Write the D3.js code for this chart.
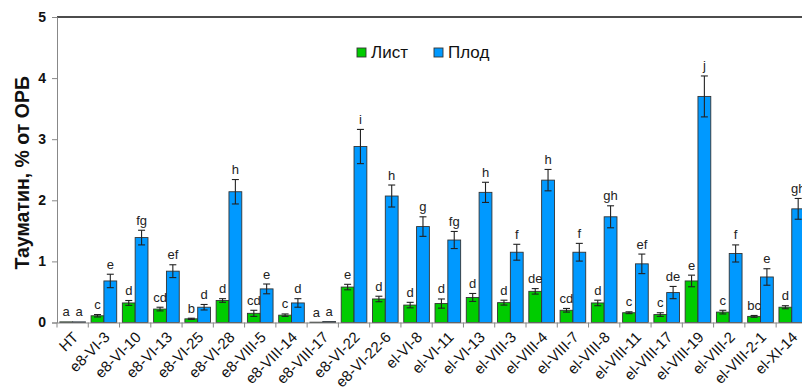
<!DOCTYPE html>
<html>
<head>
<meta charset="utf-8">
<script src="https://cdn.jsdelivr.net/npm/d3@7/dist/d3.min.js"></script>
<style>
  html, body { margin: 0; padding: 0; background: #fff; }
  svg { display: block; overflow: hidden; }
  text { font-family: Arial, "Liberation Sans", sans-serif; }
</style>
</head>
<body>
<svg id="chart" width="802" height="391"></svg>
<script>
// Lines (categories)
const categories = ["НТ","e8-VI-3","e8-VI-10","e8-VI-13","e8-VI-25","e8-VI-28","e8-VIII-5","e8-VIII-14","e8-VIII-17","e8-VI-22","e8-VI-22-6","el-VI-8","el-VI-11","el-VI-13","el-VIII-3","el-VIII-4","el-VIII-7","el-VIII-8","el-VIII-11","el-VIII-17","el-VIII-19","el-VIII-2","el-VIII-2-1","el-XI-14"];

// Thaumatin content, % of total soluble protein
const leafValues  = [0.01,0.11,0.32,0.22,0.06,0.36,0.15,0.12,0.005,0.58,0.385,0.285,0.31,0.41,0.325,0.51,0.20,0.32,0.16,0.13,0.68,0.17,0.10,0.25];
const leafErrors  = [0,0.02,0.04,0.03,0.01,0.03,0.05,0.02,0,0.045,0.045,0.045,0.075,0.065,0.04,0.045,0.03,0.045,0.015,0.03,0.095,0.03,0.015,0.025];
const fruitValues = [0.01,0.68,1.39,0.84,0.25,2.14,0.55,0.32,0.015,2.88,2.07,1.57,1.35,2.13,1.15,2.33,1.15,1.73,0.96,0.49,3.70,1.13,0.745,1.86];
const fruitErrors = [0,0.11,0.12,0.105,0.045,0.2,0.08,0.07,0,0.28,0.18,0.16,0.14,0.165,0.13,0.175,0.145,0.18,0.16,0.1,0.335,0.14,0.135,0.17];

// Significance groups
const leafLetters  = ["a","c","d","cd","b","d","cd","c","a","e","d","d","d","d","d","de","cd","d","c","c","e","c","bc","d"];
const fruitLetters = ["a","e","fg","ef","d","h","e","d","a","i","h","g","fg","h","f","h","f","gh","ef","de","j","f","e","gh"];

const seriesNames = ["Лист","Плод"];
const seriesColors = ["#00cc00","#0099ff"];
const yTicks = [0,1,2,3,4,5];

const svg = d3.select("#chart");
const margin = {left: 57, top: 17, bottom: 68.5};
const plotRight = 807.4;
const H = 391;

const x = d3.scaleBand().domain(categories).range([margin.left, plotRight]).paddingInner(0).paddingOuter(0);
const xSub = d3.scaleBand().domain([0,1]).range([0, x.bandwidth()]).paddingInner(0).paddingOuter(0.22);
const y = d3.scaleLinear().domain([0,5]).range([H - margin.bottom, margin.top]);

const rows = categories.map((c,i) => ({
  cat: c,
  vals: [
    {s:0, v: leafValues[i],  e: leafErrors[i],  t: leafLetters[i]},
    {s:1, v: fruitValues[i], e: fruitErrors[i], t: fruitLetters[i]}
  ]
}));

// top border of the plot area
svg.append("line")
  .attr("x1", margin.left).attr("x2", plotRight)
  .attr("y1", y(5)).attr("y2", y(5))
  .attr("stroke", "#111").attr("stroke-width", 1.3);

// y axis
const yAxis = svg.append("g")
  .attr("transform", `translate(${margin.left},0)`)
  .call(d3.axisLeft(y).tickValues(yTicks).tickFormat(d3.format("d")).tickSizeOuter(0).tickSize(5).tickPadding(6));
yAxis.select(".domain").attr("stroke", "#888");
yAxis.selectAll(".tick line").attr("stroke", "#888");
yAxis.selectAll(".tick text").attr("font-size", 14).attr("font-weight", "bold").attr("fill", "#111")
  .attr("font-family", "Arial, 'Liberation Sans', sans-serif");

// y axis title
svg.append("text")
  .attr("transform", `translate(29,${(y(0)+y(5))/2 + 3}) rotate(-90)`)
  .attr("text-anchor", "middle")
  .attr("font-size", 19.5).attr("font-weight", "bold").attr("fill", "#111")
  .text("Тауматин, % от ОРБ");

// bars
const groups = svg.append("g").selectAll("g.grp").data(rows).join("g")
  .attr("class", "grp")
  .attr("transform", d => `translate(${x(d.cat)},0)`);

groups.selectAll("rect").data(d => d.vals).join("rect")
  .attr("x", d => xSub(d.s))
  .attr("width", xSub.bandwidth())
  .attr("y", d => y(d.v))
  .attr("height", d => y(0) - y(d.v))
  .attr("fill", d => seriesColors[d.s])
  .attr("stroke", "#333").attr("stroke-width", 0.9);

// error bars
const eb = groups.selectAll("g.err").data(d => d.vals.filter(v => v.e > 0)).join("g").attr("class", "err")
  .attr("stroke", "#222").attr("stroke-width", 1.1);
eb.append("line")
  .attr("x1", d => xSub(d.s) + xSub.bandwidth()/2).attr("x2", d => xSub(d.s) + xSub.bandwidth()/2)
  .attr("y1", d => y(d.v + d.e)).attr("y2", d => y(d.v - d.e));
eb.append("line")
  .attr("x1", d => xSub(d.s) + xSub.bandwidth()/2 - 3.5).attr("x2", d => xSub(d.s) + xSub.bandwidth()/2 + 3.5)
  .attr("y1", d => y(d.v + d.e)).attr("y2", d => y(d.v + d.e));
eb.append("line")
  .attr("x1", d => xSub(d.s) + xSub.bandwidth()/2 - 3.5).attr("x2", d => xSub(d.s) + xSub.bandwidth()/2 + 3.5)
  .attr("y1", d => y(d.v - d.e)).attr("y2", d => y(d.v - d.e));

// significance letters
groups.selectAll("text.lbl").data(d => d.vals).join("text")
  .attr("class", "lbl")
  .attr("x", d => xSub(d.s) + xSub.bandwidth()/2)
  .attr("y", d => y(d.v + d.e) - 5.5)
  .attr("text-anchor", "middle")
  .attr("font-size", 13).attr("fill", "#222")
  .text(d => d.t);

// x axis
const xAxis = svg.append("g")
  .attr("transform", `translate(0,${y(0)})`)
  .call(d3.axisBottom(x).tickSize(0).tickSizeOuter(0).tickPadding(0));
xAxis.select(".domain").attr("stroke", "#888");
// tick marks on band boundaries
xAxis.selectAll("line.bound").data(categories).join("line")
  .attr("class", "bound")
  .attr("x1", d => x(d)).attr("x2", d => x(d))
  .attr("y1", 0).attr("y2", 5)
  .attr("stroke", "#888");
xAxis.selectAll(".tick text")
  .attr("font-size", 15).attr("fill", "#111")
  .attr("font-family", "Arial, 'Liberation Sans', sans-serif")
  .attr("text-anchor", "end")
  .attr("transform", "translate(3,12) rotate(-45)")
  .attr("dy", "0.35em");

// legend
const legend = svg.append("g").attr("transform", "translate(357,48)");
seriesNames.forEach((name, i) => {
  const g = legend.append("g").attr("transform", `translate(${i*77},0)`);
  g.append("rect").attr("width", 9).attr("height", 9)
    .attr("fill", seriesColors[i]).attr("stroke", "#333").attr("stroke-width", 0.9);
  g.append("text").attr("x", 14).attr("y", 9.8)
    .attr("font-size", 17).attr("fill", "#111").text(name);
});
</script>
</body>
</html>
